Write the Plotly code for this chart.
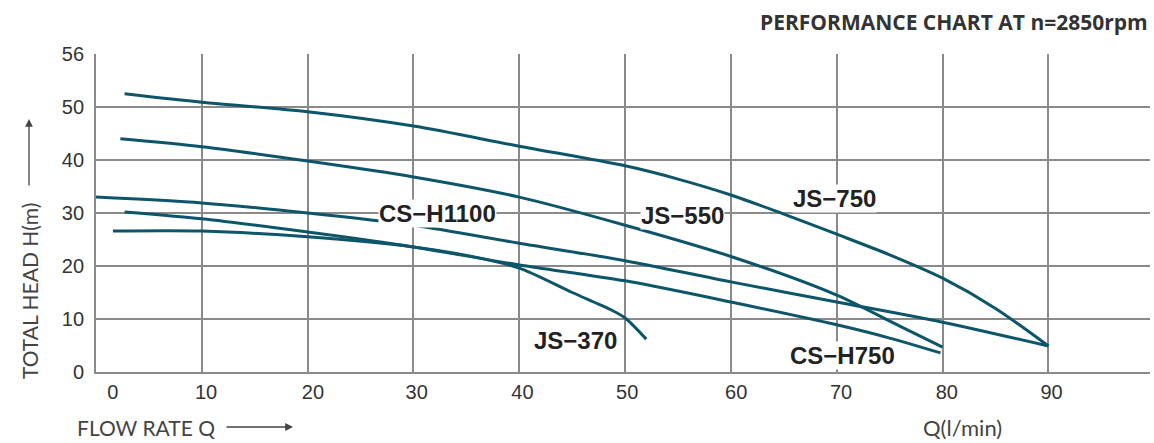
import plotly.graph_objects as go

# ---- data ----
js750_q = [2.7, 10, 20, 30, 40, 50, 55, 60, 65, 70, 75, 80, 85, 90]
js750_h = [52.5, 50.9, 49.1, 46.4, 42.6, 38.9, 36.4, 33.4, 29.8, 26.0, 22.1, 17.7, 12.0, 4.9]

js550_q = [2.3, 10, 20, 30, 40, 50, 60, 70, 76, 80]
js550_h = [44.0, 42.5, 39.8, 36.8, 33.0, 27.7, 21.8, 14.5, 8.6, 4.7]

csh1100_q = [0, 10, 20, 30, 40, 50, 60, 70, 80, 90]
csh1100_h = [33.0, 31.9, 30.0, 27.7, 24.3, 21.0, 17.0, 13.2, 9.4, 4.9]

csh750_q = [2.7, 10, 20, 30, 40, 50, 60, 70, 75, 79.8]
csh750_h = [30.2, 28.9, 26.4, 23.6, 20.2, 17.2, 13.2, 8.9, 6.4, 3.6]

js370_q = [1.6, 10, 20, 30, 35, 40, 45, 48.6, 50, 52]
js370_h = [26.6, 26.6, 25.5, 23.6, 22.0, 19.6, 15.0, 11.8, 10.2, 6.2]

series_names = ["JS-750", "JS-550", "CS-H1100", "CS-H750", "JS-370"]

x_grid = [0, 10, 20, 30, 40, 50, 60, 70, 80, 90]
x_label_pos = [1.6, 10.4, 20.5, 30.3, 40.3, 50.2, 60.5, 70.4, 80.4, 90.3]
x_label_text = ["0", "10", "20", "30", "40", "50", "60", "70", "80", "90"]

y_grid = [0, 10, 20, 30, 40, 50, 60]
y_label_text = ["0", "10", "20", "30", "40", "50", "56"]

# curve labels: text, x, y
lbl_text = ["CS\u2212H1100", "JS\u2212550", "JS\u2212750", "JS\u2212370", "CS\u2212H750"]
lbl_x = [32.3, 55.4, 69.8, 45.3, 70.5]
lbl_y = [30.0, 29.6, 32.8, 6.0, 3.2]

CURVE = "#0d566a"
GRID = "#8a8a8a"
TXT = "#333333"
AX = "#444444"

L, T, W, H = 96, 54, 1054, 318
def px(xp):
    return (xp - L) / W
def py(yp):
    return (T + H - yp) / H

fig = go.Figure()
for q, h, n in [(js750_q, js750_h, series_names[0]), (js550_q, js550_h, series_names[1]),
                (csh1100_q, csh1100_h, series_names[2]), (csh750_q, csh750_h, series_names[3]),
                (js370_q, js370_h, series_names[4])]:
    fig.add_trace(go.Scatter(x=q, y=h, mode="lines", name=n,
                             line=dict(color=CURVE, width=3, shape="spline", smoothing=0.8),
                             hoverinfo="skip"))

# dummy trace on overlay axis for tick labels
fig.add_trace(go.Scatter(x=[None], y=[None], xaxis="x2", showlegend=False, hoverinfo="skip"))

for t, x, y in zip(lbl_text, lbl_x, lbl_y):
    fig.add_annotation(x=x, y=y, text=t, showarrow=False, xref="x", yref="y",
                       xanchor="center", yanchor="middle",
                       font=dict(family="Liberation Sans, Arial", size=24, color="#222222", weight="bold"),
                       bgcolor="white", borderpad=0)

# title
fig.add_annotation(x=px(1150), y=py(22), xref="paper", yref="paper",
                   text="PERFORMANCE CHART AT n=2850rpm",
                   showarrow=False, xanchor="right", yanchor="middle",
                   font=dict(family="Open Sans, sans-serif", size=21, color=TXT, weight="bold"))

# axis titles
fig.add_annotation(x=px(29), y=py(291), xref="paper", yref="paper", text="TOTAL HEAD H(m)",
                   textangle=-90, showarrow=False, xanchor="center", yanchor="middle",
                   font=dict(family="Lato, Noto Sans, sans-serif", size=21, color=AX))
fig.add_annotation(x=px(146), y=py(427), xref="paper", yref="paper", text="FLOW RATE Q",
                   showarrow=False, xanchor="center", yanchor="middle",
                   font=dict(family="Lato, Noto Sans, sans-serif", size=21, color=AX))
fig.add_annotation(x=px(962), y=py(427), xref="paper", yref="paper", text="Q(l/min)",
                   showarrow=False, xanchor="center", yanchor="middle",
                   font=dict(family="Lato, Noto Sans, sans-serif", size=22, color=AX))
# arrows
fig.add_annotation(x=px(29), y=py(119), xref="paper", yref="paper", ax=0, ay=68, text="",
                   showarrow=True, arrowhead=2, arrowsize=1.2, arrowwidth=1.3, arrowcolor=AX)
fig.add_annotation(x=px(293), y=py(427), xref="paper", yref="paper", ax=-68, ay=0, text="",
                   showarrow=True, arrowhead=2, arrowsize=1.2, arrowwidth=1.3, arrowcolor=AX)

fig.update_layout(
    width=1154, height=443,
    margin=dict(l=L, r=1154 - L - W, t=T, b=443 - T - H, autoexpand=False),
    paper_bgcolor="white", plot_bgcolor="white",
    showlegend=False,
    xaxis=dict(range=[0, 99.6], tickvals=x_grid, showticklabels=False, showgrid=True,
               gridcolor=GRID, gridwidth=1.6, zeroline=False, showline=True, linecolor=GRID,
               linewidth=1.8, ticks="", fixedrange=True),
    xaxis2=dict(range=[0, 99.6], overlaying="x", side="bottom", tickvals=x_label_pos,
                ticktext=x_label_text, showgrid=False, zeroline=False, showline=False, ticks="",
                tickfont=dict(family="Liberation Sans, Arial", size=20, color=TXT),
                ticklabelstandoff=6, fixedrange=True),
    yaxis=dict(range=[0, 60], tickvals=y_grid, ticktext=y_label_text, showgrid=True,
               gridcolor=GRID, gridwidth=1.6, zeroline=False, showline=True, linecolor=GRID,
               linewidth=1.8, ticks="", ticklabelstandoff=6,
               tickfont=dict(family="Liberation Sans, Arial", size=20, color=TXT), fixedrange=True),
)

fig.write_html("out.html", config={"displayModeBar": False},
               post_script="document.body.style.margin='0';document.body.style.padding='0';")
